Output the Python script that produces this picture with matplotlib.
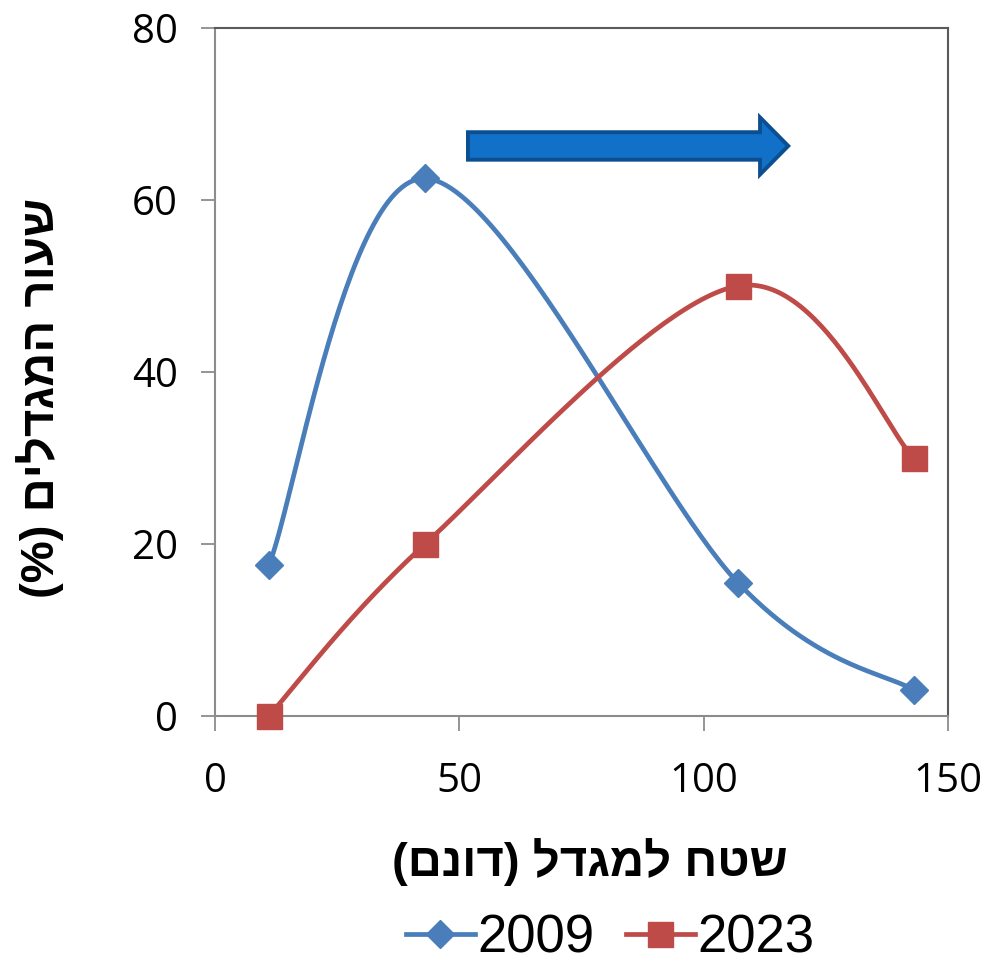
import numpy as np
import matplotlib
matplotlib.use("Agg")
import matplotlib.pyplot as plt
from matplotlib.patches import Polygon
from matplotlib.lines import Line2D

# ---- data ----
x_vals = [11, 43, 107, 143]
y_2009 = [17.5, 62.5, 15.5, 3.0]
y_2023 = [0.0, 20.0, 50.0, 30.0]
series_names = ["2009", "2023"]
x_ticks = [0, 50, 100, 150]
y_ticks = [0, 20, 40, 60, 80]
# Hebrew labels (logical order) - converted to visual order below
xlabel_logical = "שטח למגדל (דונם)"
ylabel_logical = "שעור המגדלים (%)"


def visual(s):
    mirror = {"(": ")", ")": "("}
    return "".join(mirror.get(c, c) for c in reversed(s))


def smooth(xs, ys, n=60):
    """Excel-like smoothed line (Catmull-Rom Bezier)."""
    P = np.column_stack([xs, ys]).astype(float)
    m = len(P)
    out = []
    for i in range(m - 1):
        p0 = P[i - 1] if i > 0 else P[i]
        p1 = P[i]
        p2 = P[i + 1]
        p3 = P[i + 2] if i + 2 < m else P[i + 1]
        c1 = p1 + (p2 - p0) / 6.0
        c2 = p2 - (p3 - p1) / 6.0
        t = np.linspace(0, 1, n)[:, None]
        seg = ((1 - t) ** 3) * p1 + 3 * ((1 - t) ** 2) * t * c1 + 3 * (1 - t) * t ** 2 * c2 + t ** 3 * p2
        if i > 0:
            seg = seg[1:]
        out.append(seg)
    pts = np.vstack(out)
    return pts[:, 0], pts[:, 1]


blue = "#4A7EBB"
red = "#BE4B48"
LW = 3.4

fig = plt.figure(figsize=(9.97, 9.64), dpi=100)
ax = fig.add_axes([0.2157, 0.2573, 0.7352, 0.7137])

bx, by = smooth(x_vals, y_2009)
rx, ry = smooth(x_vals, y_2023)
ax.plot(bx, by, color=blue, lw=LW, solid_capstyle="round", zorder=3, clip_on=False)
ax.plot(rx, ry, color=red, lw=LW, solid_capstyle="round", zorder=3, clip_on=False)
ax.plot(x_vals, y_2009, linestyle="none", marker="D", ms=14, color=blue, zorder=4, clip_on=False)
ax.plot(x_vals, y_2023, linestyle="none", marker="s", ms=18, color=red, zorder=4, clip_on=False)

ax.set_xlim(0, 150)
ax.set_ylim(0, 80)
ax.set_xticks(x_ticks)
ax.set_yticks(y_ticks)
tick_font = dict(family="Open Sans", size=29)
ax.set_xticklabels([str(v) for v in x_ticks], **tick_font)
ax.set_yticklabels([str(v) for v in y_ticks], **tick_font)
ax.tick_params(axis="x", direction="out", length=11, width=1.3, color="#8C8C8C", pad=22)
ax.tick_params(axis="y", direction="out", length=10, width=1.3, color="#8C8C8C", pad=17)

for side in ["left", "bottom"]:
    ax.spines[side].set_color("#8C8C8C")
    ax.spines[side].set_linewidth(1.5)
for side in ["top", "right"]:
    ax.spines[side].set_color("#5A5A5A")
    ax.spines[side].set_linewidth(1.5)

# arrow shape (axes coordinates)
x0, xh, xt = 0.345, 0.7435, 0.782
yc, bh, hh = 0.8285, 0.0200, 0.0415
arrow = Polygon([[x0, yc - bh], [xh, yc - bh], [xh, yc - hh], [xt, yc],
                 [xh, yc + hh], [xh, yc + bh], [x0, yc + bh]],
                closed=True, transform=ax.transAxes, facecolor="#1170C8",
                edgecolor="#0B4E92", linewidth=2.8, zorder=5, clip_on=False)
ax.add_patch(arrow)

heb_font = dict(family="Liberation Sans", weight="bold", size=34)
fig.text(0.592, 0.106, visual(xlabel_logical), ha="center", va="center", **heb_font)
fig.text(0.040, 0.587, visual(ylabel_logical), ha="center", va="center", rotation=90, **heb_font)

handles = [
    Line2D([], [], color=blue, lw=LW, marker="D", ms=14),
    Line2D([], [], color=red, lw=LW, marker="s", ms=18),
]
leg = fig.legend(handles, series_names, loc="center", bbox_to_anchor=(0.612, 0.026),
                 ncol=2, frameon=False, prop=dict(family="Liberation Sans", size=38),
                 handlelength=1.3, handletextpad=0.05, columnspacing=0.6, numpoints=1)

fig.savefig("out.png", dpi=100, facecolor="white")
